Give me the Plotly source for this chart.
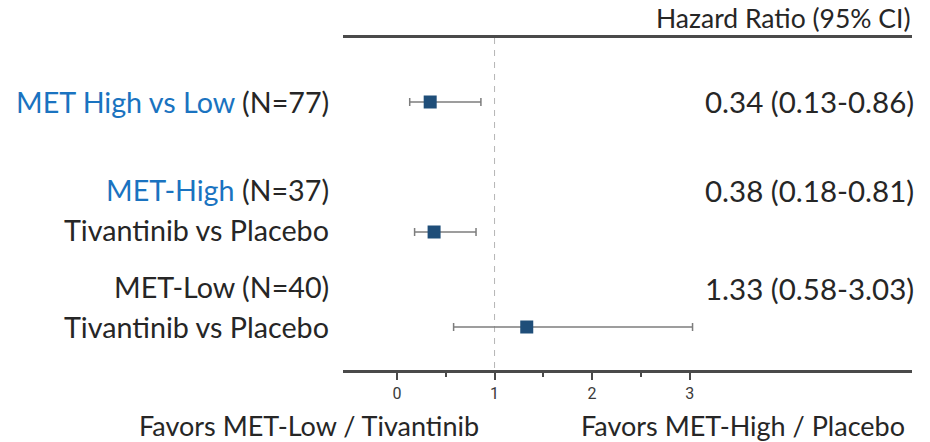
import plotly.graph_objects as go

# Forest plot data: hazard ratios with 95% CIs
comparisons = ["MET High vs Low", "MET-High Tivantinib vs Placebo", "MET-Low Tivantinib vs Placebo"]
hazard_ratio = [0.34, 0.38, 1.33]
ci_low = [0.13, 0.18, 0.58]
ci_high = [0.86, 0.81, 3.03]
n_patients = [77, 37, 40]
tick_values = [0, 1, 2, 3]
minor_tick_values = [0.5, 1.5, 2.5]

# Layout (pixel-based vertical coordinates)
W, H = 930, 442
PLOT_L, PLOT_R, PLOT_T, PLOT_B = 343, 912, 38, 370
row_y = [102, 232, 327]

FONT = "Lato"
TXT = "#262626"
BLUE = "#1a73c0"
MARK = "#1f4e79"

x0, x1 = -0.554, 5.28

fig = go.Figure()

fig.add_shape(type="line", xref="x", yref="y", x0=1, x1=1, y0=PLOT_T, y1=PLOT_B,
              line=dict(color="#b5b5b5", width=1, dash="6px,6px"), layer="below")

fig.add_trace(go.Scatter(
    x=hazard_ratio, y=row_y, mode="markers",
    marker=dict(symbol="square", size=13, color=MARK),
    error_x=dict(type="data", symmetric=False,
                 array=[h - m for h, m in zip(ci_high, hazard_ratio)],
                 arrayminus=[m - l for m, l in zip(hazard_ratio, ci_low)],
                 color="#7d7d7d", thickness=1.5, width=4),
    hoverinfo="skip", showlegend=False,
))

def px_to_paper_x(px):
    return (px - PLOT_L) / (PLOT_R - PLOT_L)

def px_to_paper_y(py):
    return (PLOT_B - py) / (PLOT_B - PLOT_T)

ann = []
def label(text, px, py, size=28.7, anchor="right", color=TXT):
    ann.append(dict(text=text, x=px_to_paper_x(px), y=px_to_paper_y(py),
                    xref="paper", yref="paper",
                    xanchor=anchor, yanchor="middle", showarrow=False,
                    font=dict(family=FONT, size=size, color=color)))

def n_label(n):
    return f"(N={n})"

label(f"<span style='color:{BLUE}'>{comparisons[0]}</span> {n_label(n_patients[0])}", 331, 102)
label(f"<span style='color:{BLUE}'>MET-High</span> {n_label(n_patients[1])}", 331, 190)
label("Tivantinib vs Placebo", 331, 230)
label(f"MET-Low {n_label(n_patients[2])}", 331, 287)
label("Tivantinib vs Placebo", 331, 327)

for hr, lo, hi, py in zip(hazard_ratio, ci_low, ci_high, [102, 190, 288]):
    label(f"{hr:.2f} ({lo:.2f}-{hi:.2f})", 916, py, size=29.5)

label("Hazard Ratio (95% CI)", 912, 18, size=26.5)
label("Favors MET-Low / Tivantinib", 309, 425, size=27, anchor="center")
label("Favors MET-High / Placebo", 743, 425, size=27, anchor="center")

fig.update_layout(
    width=W, height=H,
    margin=dict(l=PLOT_L, r=W - PLOT_R, t=PLOT_T, b=H - PLOT_B, pad=0),
    paper_bgcolor="white", plot_bgcolor="white",
    annotations=ann,
    xaxis=dict(range=[x0, x1], tickvals=tick_values, ticktext=[str(v) for v in tick_values],
               showgrid=False, zeroline=False, showline=True, mirror=True,
               linecolor="#4a4a4a", linewidth=2.5,
               ticks="outside", ticklen=7, tickwidth=2, tickcolor="#4a4a4a",
               tickfont=dict(family="Roboto", size=16, color="#3a3a3a"),
               minor=dict(tickvals=minor_tick_values, ticks="outside", ticklen=4,
                          tickwidth=2, tickcolor="#4a4a4a", showgrid=False),
               fixedrange=True),
    yaxis=dict(range=[PLOT_B, PLOT_T], visible=False, showgrid=False, fixedrange=True),
)

fig.write_html("out.html")
